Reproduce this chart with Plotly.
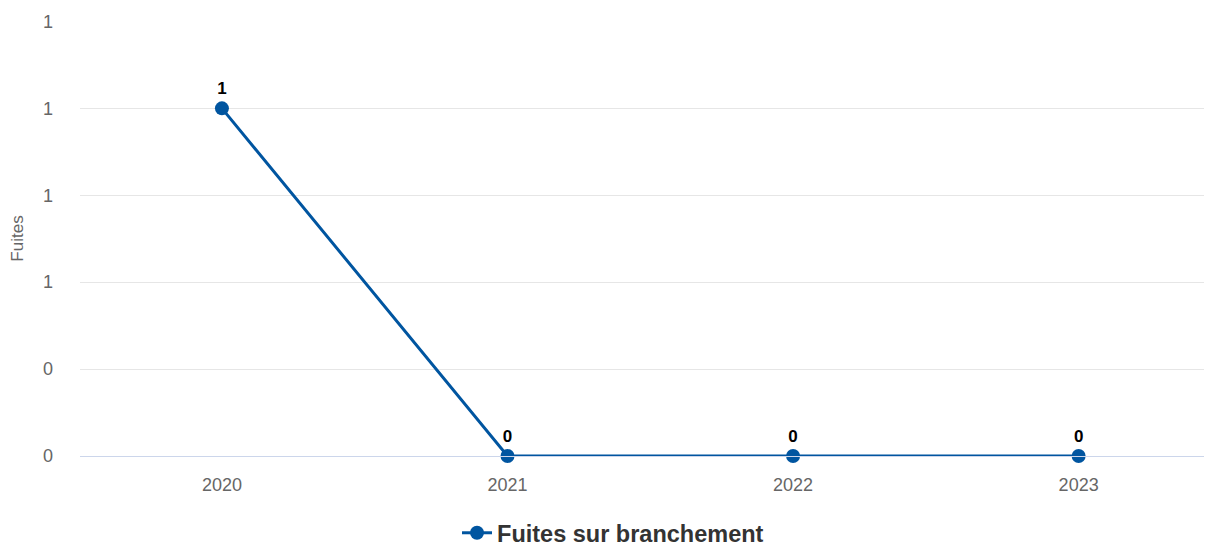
import plotly.graph_objects as go

years = ["2020", "2021", "2022", "2023"]
fuites = [1, 0, 0, 0]
ytick_vals = [0, 0.25, 0.5, 0.75, 1.0, 1.25]
ytick_text = ["0", "0", "1", "1", "1", "1"]
series_name = "Fuites sur branchement"

color = "#0055a0"
font = "Liberation Sans, Arial, sans-serif"

fig = go.Figure()
fig.add_trace(go.Scatter(
    x=years, y=fuites, name=series_name,
    mode="lines+markers+text",
    line=dict(color=color, width=3),
    marker=dict(color=color, size=14),
    text=[str(v) for v in fuites],
    textposition="top center",
    textfont=dict(family=font, size=17, color="#000000", weight="bold"),
    cliponaxis=False,
))

# page body has an 8px margin, so the figure is placed at (8, 8)
fig.update_layout(
    width=1204, height=536,
    margin=dict(l=72, r=2, t=13, b=88, autoexpand=False),
    plot_bgcolor="white", paper_bgcolor="white",
    font=dict(family=font),
    showlegend=True,
    legend=dict(orientation="h", x=0.4717, xanchor="center", y=-0.177, yanchor="middle",
                itemwidth=30,
                font=dict(family=font, size=23.5, color="#333333", weight="bold")),
)
fig.update_xaxes(
    type="category", range=[-0.497, 3.46], automargin=False,
    showline=True, linecolor="#ccd6eb", linewidth=1,
    showgrid=False, ticks="",
    tickfont=dict(family=font, size=18, color="#666666"),
    ticklabelstandoff=12,
)
fig.update_yaxes(
    range=[0, 1.2512], tickvals=ytick_vals, ticktext=ytick_text, automargin=False,
    showgrid=True, gridcolor="#e6e6e6", gridwidth=1, zeroline=False,
    tickfont=dict(family=font, size=18, color="#666666"),
    ticklabelstandoff=26,
    title=dict(text="Fuites", font=dict(family=font, size=17, color="#666666"), standoff=20),
)

fig.write_html("out.html")
